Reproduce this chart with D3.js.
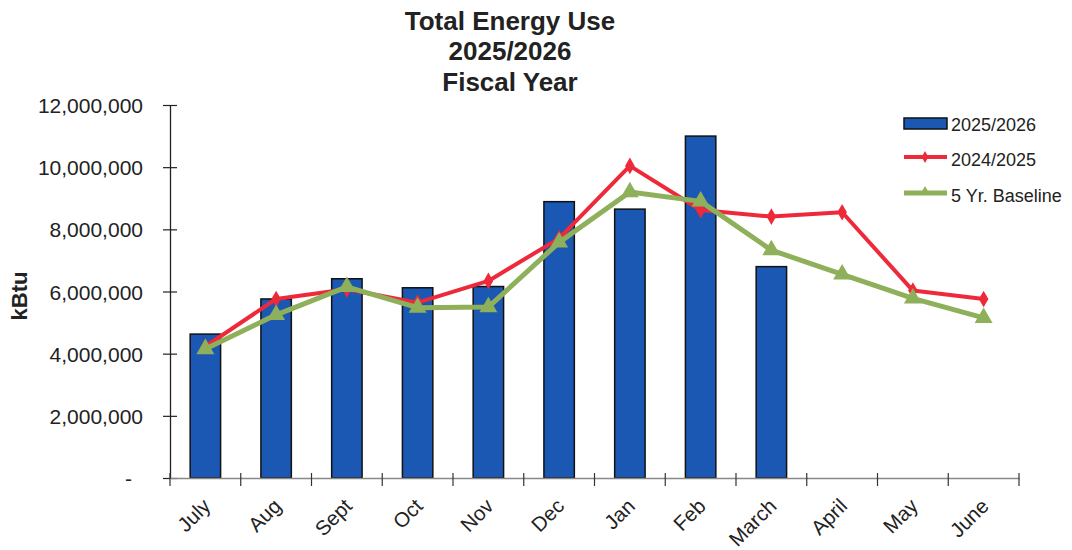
<!DOCTYPE html>
<html>
<head>
<meta charset="utf-8">
<script src="https://cdn.jsdelivr.net/npm/d3@7"></script>
<style>
  html, body { margin: 0; padding: 0; background: #fff; }
  svg { display: block; font-family: "Liberation Sans", Arial, sans-serif; }
</style>
</head>
<body>
<svg id="chart" width="1072" height="550"></svg>
<script>
const months = ["July","Aug","Sept","Oct","Nov","Dec","Jan","Feb","March","April","May","June"];
const fy2526 = [4630000, 5760000, 6410000, 6120000, 6160000, 8890000, 8650000, 11000000, 6800000];
const fy2425 = [4230000, 5760000, 6070000, 5640000, 6340000, 7710000, 10040000, 8620000, 8410000, 8550000, 6030000, 5760000];
const baseline5 = [4150000, 5250000, 6150000, 5480000, 5500000, 7580000, 9200000, 8900000, 7330000, 6550000, 5780000, 5150000];
const yTicks = [0, 2000000, 4000000, 6000000, 8000000, 10000000, 12000000];
const titleLines = ["Total Energy Use", "2025/2026", "Fiscal Year"];
const legendLabels = ["2025/2026", "2024/2025", "5 Yr. Baseline"];

const colors = { bar: "#1b58b3", red: "#ee2a3a", green: "#8fb05b" };

const svg = d3.select("#chart");

const x = d3.scaleBand().domain(months).range([170, 1019]).padding(0);
const y = d3.scaleLinear().domain([0, 12000000]).range([478, 105]);

// Title
svg.append("g").selectAll("text").data(titleLines).join("text")
  .attr("x", 510).attr("y", (d, i) => 29.5 + i * 30.5)
  .attr("text-anchor", "middle").attr("font-weight", "bold")
  .attr("font-size", 26).attr("fill", "#222").text(d => d);

// Y axis
const yAxis = d3.axisLeft(y).tickValues(yTicks).tickSize(0)
  .tickFormat(d => d === 0 ? "-" : d3.format(",")(d));
const gy = svg.append("g").attr("transform", "translate(170,0)").call(yAxis);
gy.select(".domain").attr("stroke", "#222").attr("stroke-width", 1.3);
gy.selectAll(".tick text").attr("font-size", 21).attr("fill", "#222")
  .attr("x", d => d === 0 ? -38 : -27).attr("dy", "0.36em");
gy.selectAll(".tick").append("line").attr("x1", -7).attr("x2", 7)
  .attr("stroke", "#222").attr("stroke-width", 1.2);

// Y label
svg.append("text").attr("transform", "translate(27,296) rotate(-90)")
  .attr("text-anchor", "middle").attr("font-weight", "bold").attr("font-size", 22)
  .attr("fill", "#222").text("kBtu");

// Bars
svg.append("g").selectAll("rect").data(fy2526).join("rect")
  .attr("x", (d, i) => x(months[i]) + x.bandwidth() * 0.285)
  .attr("width", x.bandwidth() * 0.43)
  .attr("y", d => y(d))
  .attr("height", d => y(0) - y(d))
  .attr("fill", colors.bar).attr("stroke", "#111").attr("stroke-width", 1.5);

// X axis
const xAxis = d3.axisBottom(x).tickSize(0).tickFormat(d => d);
const gx = svg.append("g").attr("transform", "translate(0,478)").call(xAxis);
gx.select(".domain").attr("stroke", "#888").attr("stroke-width", 1.5);
gx.selectAll(".tick text").attr("font-size", 20.5).attr("fill", "#222")
  .attr("text-anchor", "end")
  .attr("transform", "translate(2,25) rotate(-45)")
  .attr("y", 0).attr("dy", "0.3em");
const bounds = months.map(m => x(m)).concat([x.range()[1]]);
svg.append("g").selectAll("line").data(bounds).join("line")
  .attr("x1", d => d).attr("x2", d => d).attr("y1", 473).attr("y2", 486)
  .attr("stroke", "#333").attr("stroke-width", 1.2);

const cx = i => x(months[i]) + x.bandwidth() / 2;

// Red line
const line = d3.line().x((d, i) => cx(i)).y(d => y(d));
svg.append("path").datum(fy2425).attr("d", line)
  .attr("fill", "none").attr("stroke", colors.red).attr("stroke-width", 4)
  .attr("stroke-linejoin", "round");
svg.append("g").selectAll("path").data(fy2425).join("path")
  .attr("d", d3.symbol(d3.symbolDiamond, 80))
  .attr("transform", (d, i) => `translate(${cx(i)},${y(d)})`)
  .attr("fill", colors.red);

// Green line
svg.append("path").datum(baseline5).attr("d", line)
  .attr("fill", "none").attr("stroke", colors.green).attr("stroke-width", 5)
  .attr("stroke-linejoin", "round");
svg.append("g").selectAll("path").data(baseline5).join("path")
  .attr("d", d3.symbol(d3.symbolTriangle, 140))
  .attr("transform", (d, i) => `translate(${cx(i)},${y(d)})`)
  .attr("fill", colors.green);

// Legend
const lg = svg.append("g");
lg.append("rect").attr("x", 904).attr("y", 118).attr("width", 43).attr("height", 11)
  .attr("fill", colors.bar).attr("stroke", "#111").attr("stroke-width", 1.5);
lg.append("line").attr("x1", 904).attr("x2", 947).attr("y1", 157).attr("y2", 157)
  .attr("stroke", colors.red).attr("stroke-width", 4);
lg.append("path").attr("d", d3.symbol(d3.symbolDiamond, 40))
  .attr("transform", "translate(925,157)").attr("fill", colors.red);
lg.append("line").attr("x1", 904).attr("x2", 947).attr("y1", 193).attr("y2", 193)
  .attr("stroke", colors.green).attr("stroke-width", 5);
lg.append("path").attr("d", d3.symbol(d3.symbolTriangle, 45))
  .attr("transform", "translate(925,192)").attr("fill", colors.green);
lg.selectAll("text").data(legendLabels).join("text")
  .attr("x", 951).attr("y", (d, i) => 130.5 + i * 35.5)
  .attr("font-size", 18).attr("fill", "#222").text(d => d);
</script>
</body>
</html>
